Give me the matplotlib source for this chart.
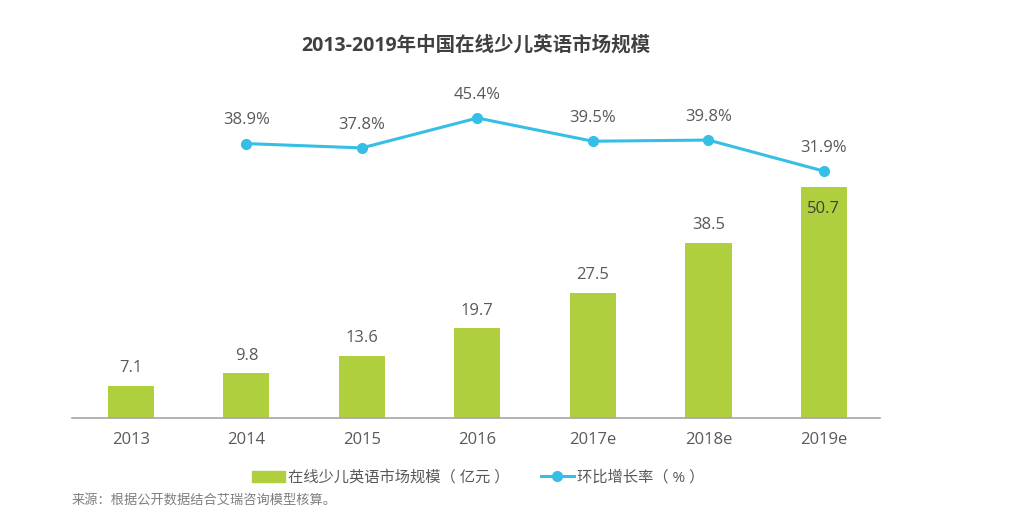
import matplotlib
matplotlib.use("Agg")
import matplotlib.pyplot as plt
from matplotlib.lines import Line2D
from matplotlib.patches import Patch

plt.rcParams['font.family'] = ['Open Sans', 'Noto Sans CJK SC', 'DejaVu Sans']

# 数据
years = ["2013", "2014", "2015", "2016", "2017e", "2018e", "2019e"]
market = [7.1, 9.8, 13.6, 19.7, 27.5, 38.5, 50.7]
growth_years = ["2014", "2015", "2016", "2017e", "2018e", "2019e"]
growth = [38.9, 37.8, 45.4, 39.5, 39.8, 31.9]

bar_color = "#b0cf3e"
line_color = "#35bfe6"
text_color = "#595959"

fig = plt.figure(figsize=(10.24, 5.22), dpi=100)
ax = fig.add_axes([0.0703, 0.199, 0.789, 0.648])

x = list(range(len(years)))
ax.bar(x, market, width=0.4, color=bar_color, zorder=2)
for i, (xi, v) in enumerate(zip(x, market)):
    if i == len(market) - 1:
        # 最后一根柱子的数值写在柱内
        ax.annotate(f"{v}", (xi, v), xytext=(0, -10), textcoords="offset points",
                    ha="center", va="top", fontsize=12, color="#404040")
    else:
        ax.annotate(f"{v}", (xi, v), xytext=(0, 7), textcoords="offset points",
                    ha="center", va="bottom", fontsize=12, color=text_color)

ax.set_xlim(-0.51, 6.485)
ax.set_ylim(0, 74.2)
ax.set_xticks(x)
ax.set_xticklabels(years, fontsize=12, color=text_color)
ax.tick_params(axis="x", length=0, pad=10)
ax.set_yticks([])
for s in ["top", "right", "left"]:
    ax.spines[s].set_visible(False)
ax.spines["bottom"].set_color("#a6a6a6")
ax.spines["bottom"].set_linewidth(1.2)

ax2 = ax.twinx()
gx = [years.index(y) for y in growth_years]
ax2.plot(gx, growth, color=line_color, lw=2.2, marker="o", markersize=7, zorder=3)
for xi, v in zip(gx, growth):
    ax2.annotate(f"{v}%", (xi, v), xytext=(0, 11), textcoords="offset points",
                 ha="center", va="bottom", fontsize=12, color=text_color)
ax2.set_ylim(-30.9, 55.1)
ax2.set_yticks([])
for s in ["top", "right", "left", "bottom"]:
    ax2.spines[s].set_visible(False)

fig.text(0.465, 0.913, "2013-2019年中国在线少儿英语市场规模", ha="center", va="center",
         fontsize=14, fontweight="bold", color="#404040")

handles = [Patch(color=bar_color),
           Line2D([0], [0], color=line_color, lw=2.2, marker="o", markersize=7)]
fig.legend(handles, ["在线少儿英语市场规模（ 亿元 ）", "环比增长率（ % ）"],
           loc="center", bbox_to_anchor=(0.467, 0.084), ncol=2, frameon=False,
           fontsize=11, labelcolor=text_color, columnspacing=2.0,
           handlelength=2.2, handletextpad=0.2)

fig.text(0.07, 0.042, "来源：根据公开数据结合艾瑞咨询模型核算。", ha="left", va="center",
         fontsize=9.5, color="#7f7f7f")

fig.savefig("out.png", dpi=100, facecolor="white")
